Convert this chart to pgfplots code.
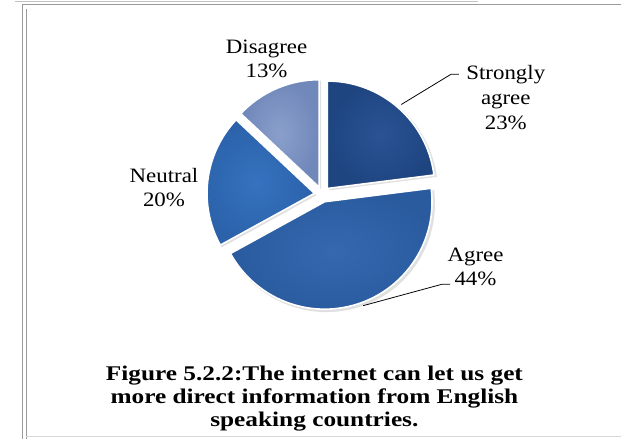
\documentclass[border=0pt]{standalone}
\usepackage{fontspec}
\setmainfont{Liberation Serif}
\newfontfamily\lblfont[FakeStretch=1.12]{Liberation Serif}
\newfontfamily\capfont[FakeStretch=1.21]{Liberation Serif}
\usepackage{pgfplots}
\pgfplotsset{compat=1.18}
\usepackage{pgfplotstable}

\definecolor{cSA}{HTML}{2A5395}
\definecolor{cSAo}{HTML}{1E4580}
\definecolor{cA}{HTML}{3468AF}
\definecolor{cAo}{HTML}{2A5B9F}
\definecolor{cN}{HTML}{3572BF}
\definecolor{cNo}{HTML}{2B62AA}
\definecolor{cD}{HTML}{8A9FCB}
\definecolor{cDo}{HTML}{7088BA}
\definecolor{frame}{HTML}{9A9A9A}

\pgfplotstableread{
name value
StronglyAgree 23
Agree 44
Neutral 20
Disagree 13
}\piedata

\begin{document}
% angles from the table (clockwise from the top)
\pgfplotstablegetelem{0}{value}\of\piedata \let\vSA\pgfplotsretval
\pgfplotstablegetelem{1}{value}\of\piedata \let\vA\pgfplotsretval
\pgfplotstablegetelem{2}{value}\of\piedata \let\vN\pgfplotsretval
\pgfplotstablegetelem{3}{value}\of\piedata \let\vD\pgfplotsretval
\pgfmathsetmacro\aO{90}
\pgfmathsetmacro\aI{\aO-3.6*\vSA}
\pgfmathsetmacro\aII{\aI-3.6*\vA}
\pgfmathsetmacro\aIII{\aII-3.6*\vN}
\pgfmathsetmacro\aIV{\aIII-3.6*\vD}
\newcommand\slice[4]{%
  \pgfmathsetmacro\midang{(#1+#2)/2}%
  \fill[black,opacity=0.12,shift={(axis cs:317,249)},shift={(\midang:8bp)}]
     (0,0) -- (#1:111bp) arc[start angle=#1,end angle=#2,radius=111bp] -- cycle;
  \shade[inner color=#3,outer color=#4,draw=white,line width=1.6bp,
         shift={(axis cs:315,251)},shift={(\midang:8bp)}]
     (0,0) -- (#1:110bp) arc[start angle=#1,end angle=#2,radius=110bp] -- cycle;
}
\begin{tikzpicture}
\path[use as bounding box] (0,0) rectangle (621bp,450bp);
\begin{axis}[at={(0,0)},anchor=south west,
  width=621bp,height=450bp,scale only axis,
  xmin=0,xmax=621,ymin=0,ymax=450,hide axis,clip=false]
\pgfplotsextra{%
  % frame
  \draw[frame!60,line width=0.8bp] (axis cs:0,449) -- (axis cs:475,449);
  \draw[frame,line width=1bp] (axis cs:8,445) -- (axis cs:621,445);
  \draw[frame,line width=1bp] (axis cs:8,445) -- (axis cs:8,0);
  \draw[frame,line width=1bp] (axis cs:12,441) -- (axis cs:12,0);
  \draw[frame!40,line width=0.8bp] (axis cs:12,3) -- (axis cs:621,3);
  % slices
  \slice{\aO}{\aI}{cSA}{cSAo}
  \slice{\aI}{\aII}{cA}{cAo}
  \slice{\aII}{\aIII}{cN}{cNo}
  \slice{\aIII}{\aIV}{cD}{cDo}
  % leader lines
  \draw[black,line width=0.8bp] (axis cs:396,343) -- (axis cs:447,374) -- (axis cs:455,374);
  \draw[black,line width=0.8bp] (axis cs:357,137) -- (axis cs:438,159) -- (axis cs:446,159);
  % labels
  \node[font=\lblfont\fontsize{21}{25}\selectfont,align=center,text=black] at (axis cs:258,390) {Disagree\\13\%};
  \node[font=\lblfont\fontsize{21}{25}\selectfont,align=center,text=black] at (axis cs:153,258) {Neutral\\20\%};
  \node[font=\lblfont\fontsize{21}{25.5}\selectfont,align=center,text=black] at (axis cs:503,350) {Strongly\\agree\\23\%};
  \node[font=\lblfont\fontsize{21}{25}\selectfont,align=center,text=black] at (axis cs:472,177) {Agree\\44\%};
  % caption
  \node[font=\capfont\bfseries\fontsize{21.5}{24}\selectfont,align=center,text=black] at (axis cs:307,42)
    {Figure 5.2.2:The internet can let us get\\more direct information from English\\speaking countries.};
}
\end{axis}
\end{tikzpicture}
\end{document}
